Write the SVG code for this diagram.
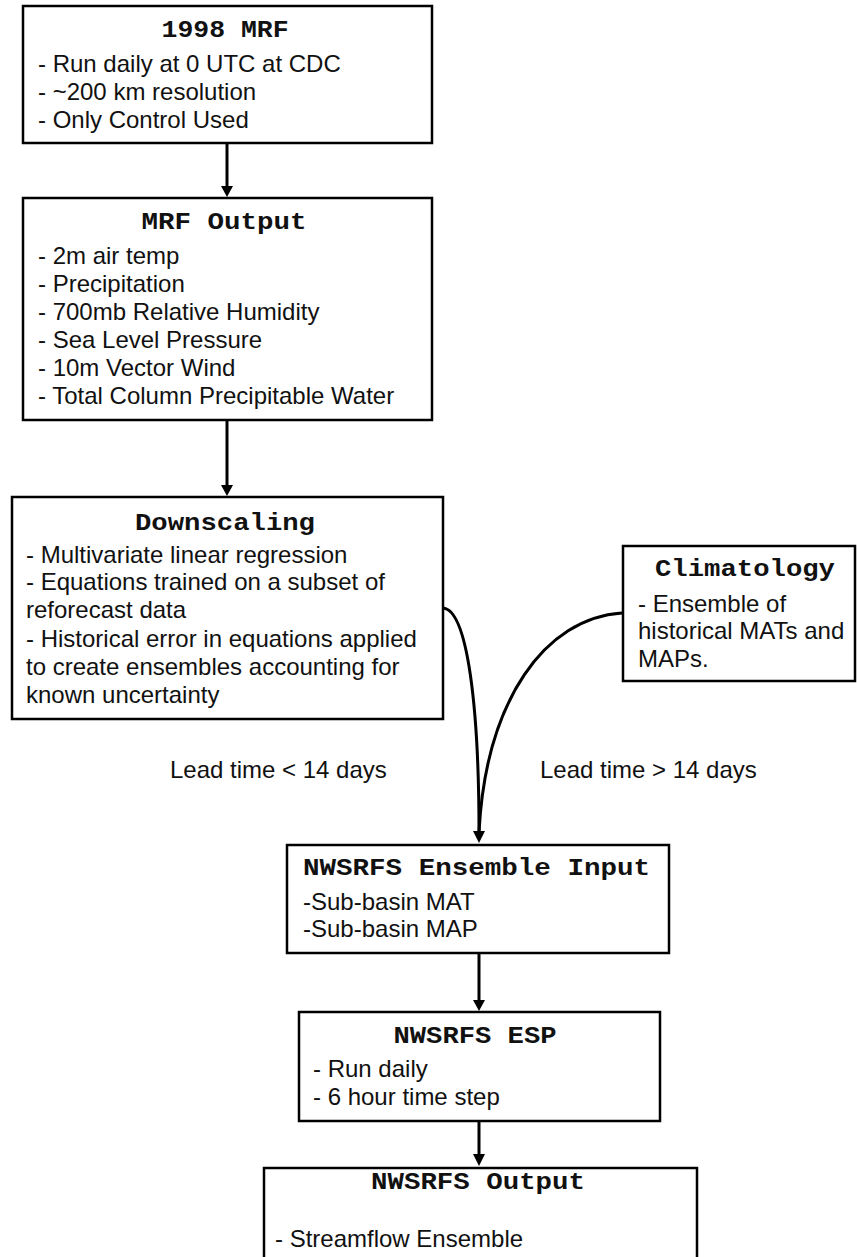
<svg xmlns="http://www.w3.org/2000/svg" width="857" height="1257" viewBox="0 0 857 1257">
<style>
.box{fill:#fff;stroke:#000;stroke-width:2.5}
.t{font-family:"Liberation Mono","Courier New",monospace;font-weight:bold;font-size:24px;fill:#111}
.b{font-family:"Liberation Sans",Arial,sans-serif;font-size:24px;fill:#111}
.c{fill:none;stroke:#000;stroke-width:3}
.h{fill:#000}
</style>
<rect width="857" height="1257" fill="#fff"/>
<g id="connectors">
<line class="c" x1="227" y1="143" x2="227" y2="188"/>
<polygon class="h" points="221,186 233,186 227,197"/>
<line class="c" x1="227" y1="420" x2="227" y2="487"/>
<polygon class="h" points="221,485 233,485 227,496"/>
<path class="c" d="M443,608 C468,610 479,710 479,832"/>
<path class="c" d="M622,613 C545,618 486,700 479,832"/>
<polygon class="h" points="473,831 485,831 479,843"/>
<line class="c" x1="479" y1="953" x2="479" y2="1002"/>
<polygon class="h" points="473,1000 485,1000 479,1011"/>
<line class="c" x1="479" y1="1121" x2="479" y2="1156"/>
<polygon class="h" points="473,1154 485,1154 479,1166"/>
<text class="b" x="170" y="778">Lead time &lt; 14 days</text>
<text class="b" x="540" y="778">Lead time &gt; 14 days</text>
</g>
<g id="mrf1998">
<rect class="box" x="23" y="6" width="409" height="137"/>
<text class="t" x="225" y="37" text-anchor="middle" textLength="127" lengthAdjust="spacingAndGlyphs">1998 MRF</text>
<text class="b" x="38" y="72">- Run daily at 0 UTC at CDC</text>
<text class="b" x="38" y="100">- ~200 km resolution</text>
<text class="b" x="38" y="128">- Only Control Used</text>
</g>
<g id="mrfOutput">
<rect class="box" x="23" y="198" width="409" height="222"/>
<text class="t" x="224" y="229" text-anchor="middle" textLength="165" lengthAdjust="spacingAndGlyphs">MRF Output</text>
<text class="b" x="38" y="264">- 2m air temp</text>
<text class="b" x="38" y="292">- Precipitation</text>
<text class="b" x="38" y="320">- 700mb Relative Humidity</text>
<text class="b" x="38" y="348">- Sea Level Pressure</text>
<text class="b" x="38" y="376">- 10m Vector Wind</text>
<text class="b" x="38" y="404">- Total Column Precipitable Water</text>
</g>
<g id="downscaling">
<rect class="box" x="12" y="497" width="431" height="222"/>
<text class="t" x="225" y="530" text-anchor="middle" textLength="180" lengthAdjust="spacingAndGlyphs">Downscaling</text>
<text class="b" x="26" y="563">- Multivariate linear regression</text>
<text class="b" x="26" y="590">- Equations trained on a subset of</text>
<text class="b" x="26" y="618">reforecast data</text>
<text class="b" x="26" y="647">- Historical error in equations applied</text>
<text class="b" x="26" y="675">to create ensembles accounting for</text>
<text class="b" x="26" y="703">known uncertainty</text>
</g>
<g id="climatology">
<rect class="box" x="623" y="546" width="232" height="135"/>
<text class="t" x="745" y="576" text-anchor="middle" textLength="180" lengthAdjust="spacingAndGlyphs">Climatology</text>
<text class="b" x="638" y="612">- Ensemble of</text>
<text class="b" x="638" y="639">historical MATs and</text>
<text class="b" x="638" y="667">MAPs.</text>
</g>
<g id="ensembleInput">
<rect class="box" x="287" y="845" width="382" height="108"/>
<text class="t" x="303" y="875" textLength="347" lengthAdjust="spacingAndGlyphs">NWSRFS Ensemble Input</text>
<text class="b" x="303" y="910">-Sub-basin MAT</text>
<text class="b" x="303" y="937">-Sub-basin MAP</text>
</g>
<g id="esp">
<rect class="box" x="299" y="1012" width="361" height="109"/>
<text class="t" x="475" y="1043" text-anchor="middle" textLength="163" lengthAdjust="spacingAndGlyphs">NWSRFS ESP</text>
<text class="b" x="313" y="1077">- Run daily</text>
<text class="b" x="313" y="1105">- 6 hour time step</text>
</g>
<g id="output">
<rect class="box" x="264" y="1168" width="433" height="100"/>
<text class="t" x="478" y="1189" text-anchor="middle" textLength="214" lengthAdjust="spacingAndGlyphs">NWSRFS Output</text>
<text class="b" x="275" y="1247">- Streamflow Ensemble</text>
</g>
</svg>
